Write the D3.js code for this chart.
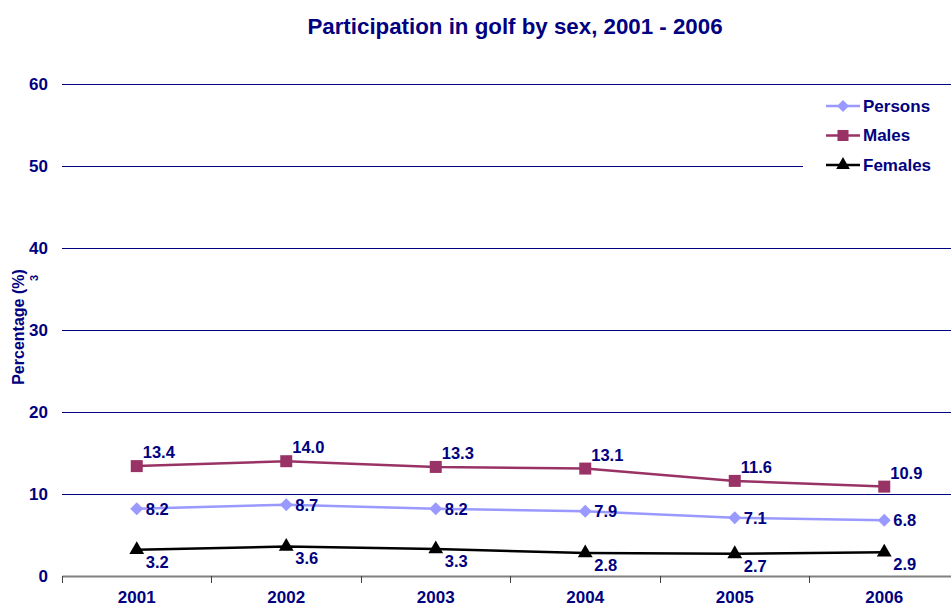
<!DOCTYPE html>
<html><head><meta charset="utf-8">
<script src="https://cdn.jsdelivr.net/npm/d3@7/dist/d3.min.js"></script>
<style>body{margin:0;background:#fff}svg{display:block;font-family:Arial,"Liberation Sans",sans-serif}</style>
</head><body><svg id="c" width="951" height="607"></svg>
<script>
const years = ["2001","2002","2003","2004","2005","2006"];
const persons = [8.2, 8.7, 8.2, 7.9, 7.1, 6.8];
const males = [13.4, 14.0, 13.3, 13.1, 11.6, 10.9];
const females = [3.2, 3.6, 3.3, 2.8, 2.7, 2.9];
const yTicks = [0, 10, 20, 30, 40, 50, 60];
const seriesNames = ["Persons", "Males", "Females"];

const navy = "#000080";
const svg = d3.select("#c");
const x = d3.scaleBand().domain(years).range([62, 959]);
const y = d3.scaleLinear().domain([0, 60]).range([576, 84]);

// gridlines
svg.append("g").selectAll("line").data(yTicks.filter(d => d > 0)).join("line")
  .attr("x1", 62).attr("x2", 951).attr("y1", d => y(d)).attr("y2", d => y(d))
  .attr("stroke", navy).attr("stroke-width", 1).attr("shape-rendering", "crispEdges");

// y tick labels
svg.append("g").selectAll("text").data(yTicks).join("text")
  .attr("x", 48).attr("y", d => y(d)).attr("dy", "0.35em").attr("text-anchor", "end")
  .attr("font-size", 17).attr("font-weight", "bold").attr("fill", navy).text(d => d);

// x axis
const xAxis = d3.axisBottom(x).tickSize(0).tickFormat("");
const gx = svg.append("g").attr("transform", "translate(0,576)").call(xAxis);
gx.select(".domain").attr("stroke", "#808080").attr("stroke-width", 2);
const bounds = years.map(d => x(d)).concat([x(years[years.length-1]) + x.bandwidth()]);
svg.append("g").selectAll("line").data(bounds).join("line")
  .attr("x1", d => d).attr("x2", d => d).attr("y1", 576).attr("y2", 583)
  .attr("stroke", "#404040").attr("stroke-width", 1).attr("shape-rendering", "crispEdges");
svg.append("g").selectAll("text").data(years).join("text")
  .attr("x", d => x(d) + x.bandwidth()/2).attr("y", 603).attr("text-anchor", "middle")
  .attr("font-size", 17).attr("font-weight", "bold").attr("fill", navy).text(d => d);

// title
svg.append("text").attr("x", 515).attr("y", 34).attr("text-anchor", "middle")
  .attr("font-size", 22.3).attr("font-weight", "bold").attr("fill", navy)
  .text("Participation in golf by sex, 2001 - 2006");

// y label
svg.append("text").attr("transform", "translate(24,327) rotate(-90)").attr("text-anchor", "middle")
  .attr("font-size", 16).attr("font-weight", "bold").attr("fill", navy).text("Percentage (%)");
svg.append("text").attr("transform", "translate(38,278) rotate(-90)").attr("text-anchor", "middle")
  .attr("font-size", 11).attr("font-weight", "bold").attr("fill", navy).text("3");

const cx = d => x(d) + x.bandwidth()/2;
const line = d3.line().x(d => cx(d.year)).y(d => y(d.v));
const series = [
  {name: "Persons", values: persons, color: "#9999ff", sym: d3.symbolSquare, rot: 45, size: 84, lab: {dx: 9, dy: 6, anchor: "start"}},
  {name: "Males", values: males, color: "#993366", sym: d3.symbolSquare, rot: 0, size: 144, lab: {dx: 6, dy: -8, anchor: "start"}},
  {name: "Females", values: females, color: "#000000", sym: d3.symbolTriangle, rot: 0, size: 95, lab: {dx: 9, dy: 18, anchor: "start"}}
];

series.forEach(s => {
  const data = years.map((yr, i) => ({year: yr, v: s.values[i]}));
  svg.append("path").datum(data).attr("d", line).attr("fill", "none")
    .attr("stroke", s.color).attr("stroke-width", 2.5);
  svg.append("g").selectAll("path").data(data).join("path")
    .attr("d", d3.symbol().type(s.sym).size(s.size))
    .attr("transform", d => `translate(${cx(d.year)},${y(d.v)}) rotate(${s.rot})`).attr("fill", s.color);
  svg.append("g").selectAll("text").data(data).join("text")
    .attr("x", d => cx(d.year) + s.lab.dx).attr("y", d => y(d.v) + s.lab.dy)
    .attr("text-anchor", s.lab.anchor).attr("font-size", 16.5).attr("font-weight", "bold")
    .attr("fill", navy).text(d => d.v.toFixed(1));
});

// legend
const lg = svg.append("g");
lg.append("rect").attr("x", 803).attr("y", 90).attr("width", 160).attr("height", 90).attr("fill", "#fff");
series.forEach((s, i) => {
  const ly = 106 + i * 29.5;
  lg.append("line").attr("x1", 826).attr("x2", 860).attr("y1", ly).attr("y2", ly)
    .attr("stroke", s.color).attr("stroke-width", 2.5);
  lg.append("path").attr("d", d3.symbol().type(s.sym).size(s.size * 0.85)())
    .attr("transform", `translate(843,${ly}) rotate(${s.rot})`).attr("fill", s.color);
  lg.append("text").attr("x", 863).attr("y", ly).attr("dy", "0.35em")
    .attr("font-size", 17).attr("font-weight", "bold").attr("fill", navy).text(s.name);
});
</script></body></html>
